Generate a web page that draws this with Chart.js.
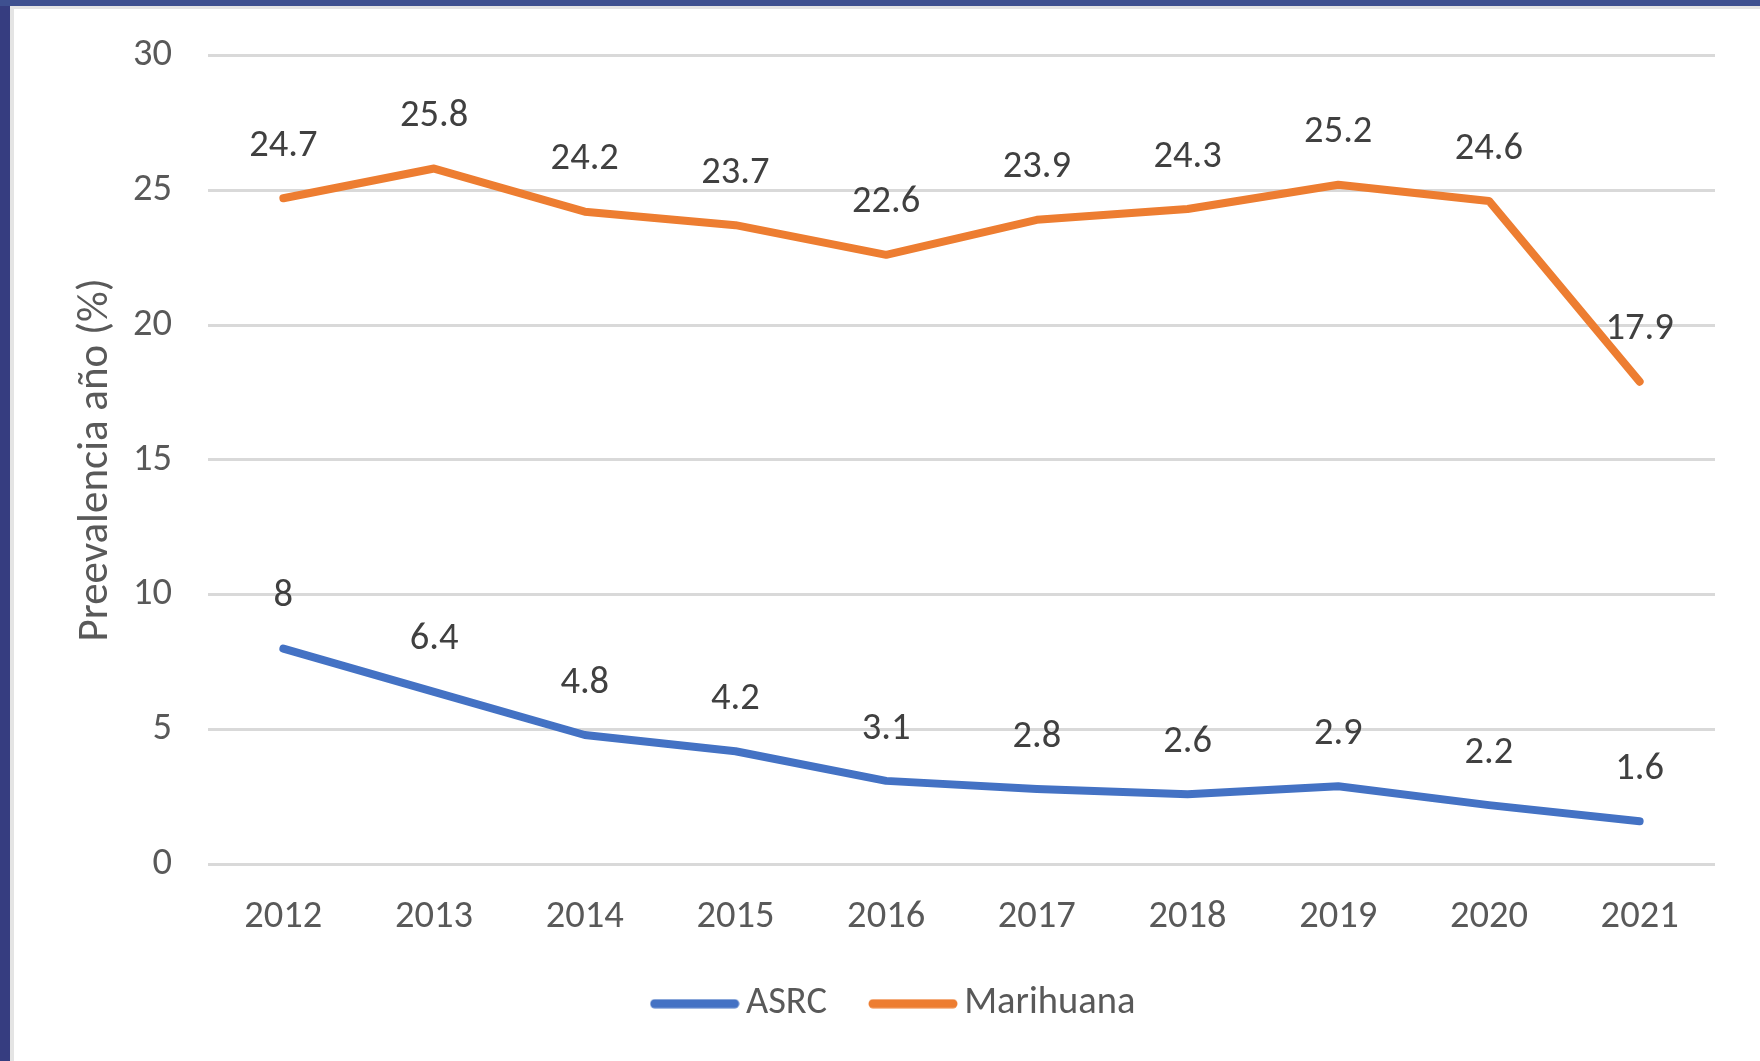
<!DOCTYPE html>
<html>
<head>
<meta charset="utf-8">
<script src="https://cdn.jsdelivr.net/npm/chart.js@4.4.1/dist/chart.umd.min.js"></script>
<style>
  html, body { margin: 0; padding: 0; }
  body { width: 1760px; height: 1061px; background: #363d80; position: relative; overflow: hidden; }
  #topband { position: absolute; left: 0; top: 0; width: 1760px; height: 6px; background: #3e5090; }
  #frame { position: absolute; left: 10px; top: 6px; right: 0; bottom: 0; background: #fff;
           border-left: 4px solid #e4e4e4; border-top: 3px solid #e4e4e4; }
  #wrap { position: absolute; left: 0; top: 0; width: 1760px; height: 1061px; }
</style>
</head>
<body>
<div id="topband"></div>
<div id="frame"></div>
<div id="wrap"><canvas id="prevChart" width="1760" height="1061"></canvas></div>
<script>
const years = ['2012', '2013', '2014', '2015', '2016', '2017', '2018', '2019', '2020', '2021'];
const asrc = [8, 6.4, 4.8, 4.2, 3.1, 2.8, 2.6, 2.9, 2.2, 1.6];
const marihuana = [24.7, 25.8, 24.2, 23.7, 22.6, 23.9, 24.3, 25.2, 24.6, 17.9];
const yTicks = [0, 5, 10, 15, 20, 25, 30];

const FONT = "Carlito, 'Liberation Sans', Arial, sans-serif";
const TXT = 38.5;

// legend swatch: a rounded line sitting close to the label text
function swatch(color) {
    const c = document.createElement('canvas');
    c.width = 90;
    c.height = 10;
    const g = c.getContext('2d');
    g.strokeStyle = color;
    g.lineWidth = 9;
    g.lineCap = 'round';
    g.beginPath();
    g.moveTo(5, 5);
    g.lineTo(85, 5);
    g.stroke();
    return c;
}

// draws the value above every point
const valueLabels = {
    id: 'valueLabels',
    afterDatasetsDraw(chart) {
        const ctx = chart.ctx;
        ctx.save();
        ctx.font = TXT + 'px ' + FONT;
        ctx.fillStyle = '#404040';
        ctx.textAlign = 'center';
        ctx.textBaseline = 'middle';
        chart.data.datasets.forEach((ds, i) => {
            const meta = chart.getDatasetMeta(i);
            meta.data.forEach((pt, j) => {
                ctx.fillText(String(ds.data[j]), pt.x, pt.y - 52);
            });
        });
        ctx.restore();
    }
};

const ctx = document.getElementById('prevChart').getContext('2d');
const chart = new Chart(ctx, {
    type: 'line',
    data: {
        labels: years,
        datasets: [
            {
                label: 'ASRC',
                data: asrc,
                borderColor: '#4472c4',
                backgroundColor: '#4472c4',
                borderWidth: 8,
                borderCapStyle: 'round',
                borderJoinStyle: 'round',
                pointRadius: 0,
                pointStyle: swatch('#4472c4'),
                tension: 0
            },
            {
                label: 'Marihuana',
                data: marihuana,
                borderColor: '#ed7d31',
                backgroundColor: '#ed7d31',
                borderWidth: 8,
                borderCapStyle: 'round',
                borderJoinStyle: 'round',
                pointRadius: 0,
                pointStyle: swatch('#ed7d31'),
                tension: 0
            }
        ]
    },
    options: {
        responsive: false,
        animation: false,
        layout: { padding: { left: 83, right: 45, top: 51, bottom: 28 } },
        plugins: {
            tooltip: { enabled: false },
            legend: {
                position: 'bottom',
                labels: {
                    usePointStyle: true,
                    pointStyleWidth: 64,
                    color: '#595959',
                    font: { size: TXT, family: FONT },
                    padding: 54
                }
            }
        },
        scales: {
            x: {
                offset: true,
                grid: { display: false, drawTicks: false },
                border: { display: false },
                ticks: { color: '#595959', font: { size: TXT, family: FONT }, padding: 30 },
                afterFit(scale) { scale.height = 66; }
            },
            y: {
                min: 0,
                max: 30,
                afterBuildTicks(scale) { scale.ticks = yTicks.map(v => ({ value: v })); },
                grid: { color: '#d9d9d9', lineWidth: 3, drawTicks: false },
                border: { display: false },
                ticks: { color: '#595959', font: { size: TXT, family: FONT, lineHeight: 1 }, padding: 36 },
                title: {
                    display: true,
                    text: 'Preevalencia año (%)',
                    color: '#595959',
                    font: { size: 43, family: FONT },
                    padding: { top: -13, bottom: 0 }
                },
                afterFit(scale) { scale.width = 125; }
            }
        }
    },
    plugins: [valueLabels]
});
</script>
</body>
</html>
